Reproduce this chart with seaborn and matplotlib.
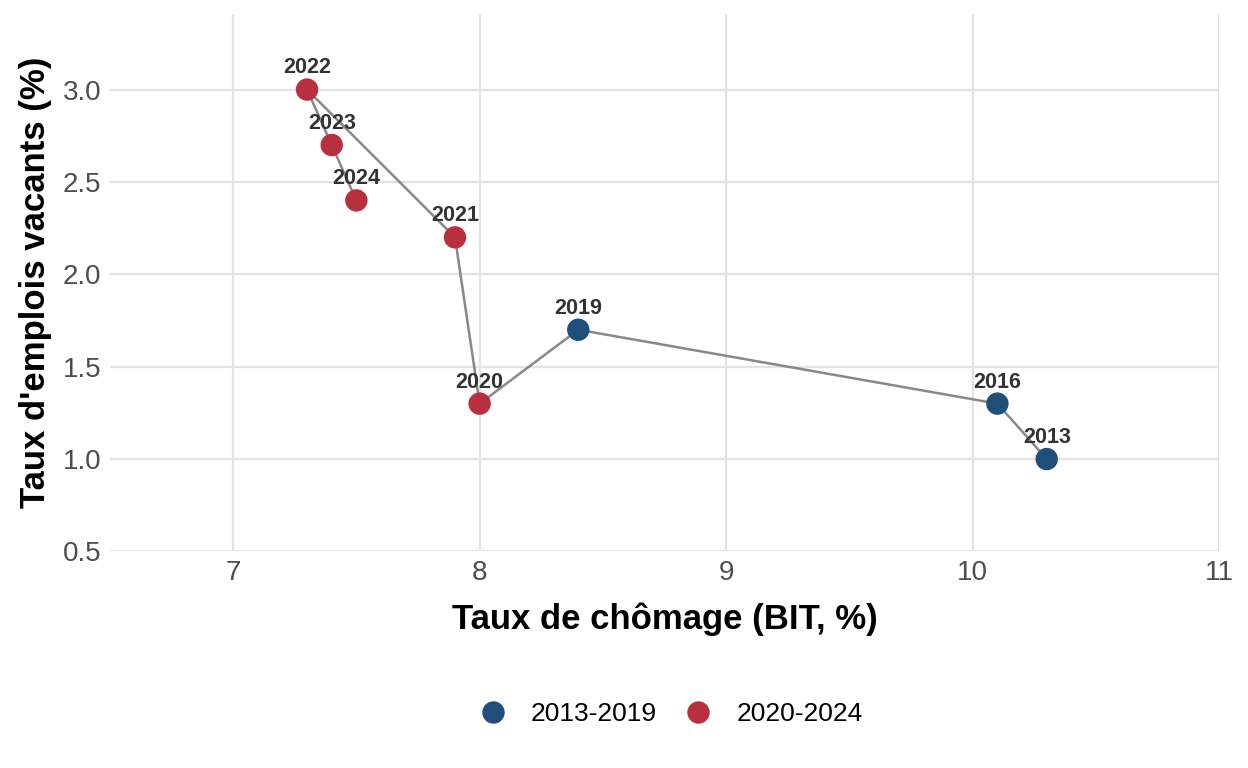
import pandas as pd
import matplotlib.pyplot as plt
import seaborn as sns

# Data
years = [2013, 2016, 2019, 2020, 2021, 2022, 2023, 2024]
chomage = [10.3, 10.1, 8.4, 8.0, 7.9, 7.3, 7.4, 7.5]
vacants = [1.0, 1.3, 1.7, 1.3, 2.2, 3.0, 2.7, 2.4]
periode = ['2013-2019', '2013-2019', '2013-2019',
           '2020-2024', '2020-2024', '2020-2024', '2020-2024', '2020-2024']

df = pd.DataFrame({'annee': years, 'chomage': chomage,
                   'vacants': vacants, 'periode': periode})

palette = {'2013-2019': '#1f4e79', '2020-2024': '#b8303d'}

sns.set_style('white')
plt.rcParams['font.family'] = ['Liberation Sans', 'DejaVu Sans']

fig, ax = plt.subplots(figsize=(12.48, 7.68), dpi=100)

# Path in year order
sns.lineplot(data=df, x='chomage', y='vacants', sort=False, color='#888888',
             linewidth=1.8, ax=ax, legend=False, zorder=2)
sns.scatterplot(data=df, x='chomage', y='vacants', hue='periode', palette=palette,
                s=260, edgecolor='none', ax=ax, zorder=3)

for _, r in df.iterrows():
    ax.annotate(str(r['annee']), (r['chomage'], r['vacants']), xytext=(0, 8),
                textcoords='offset points', ha='center', va='bottom',
                fontsize=15.5, fontweight='bold', color='#333333', zorder=4)

ax.set_xlim(6.5, 11)
ax.set_ylim(0.5, 3.41)
ax.set_xticks([7, 8, 9, 10, 11])
ax.set_yticks([0.5, 1.0, 1.5, 2.0, 2.5, 3.0])
ax.set_yticklabels(['0.5', '1.0', '1.5', '2.0', '2.5', '3.0'])
ax.grid(True, color='#e3e3e3', linewidth=1.6)
ax.set_axisbelow(True)
for s in ax.spines.values():
    s.set_visible(False)
ax.tick_params(axis='both', length=0, labelsize=20, labelcolor='#4d4d4d', pad=6)

ax.set_xlabel('Taux de chômage (BIT, %)', fontsize=25, fontweight='bold',
              color='black', labelpad=12)
ax.set_ylabel("Taux d'emplois vacants (%)", fontsize=25, fontweight='bold',
              color='black', labelpad=8)

leg = ax.legend(loc='center', bbox_to_anchor=(0.5, -0.303), ncol=2, frameon=False,
                fontsize=19, markerscale=1.0, handletextpad=0.45, columnspacing=0.55)
for t in leg.get_texts():
    t.set_color('black')

fig.subplots_adjust(left=0.088, right=0.977, top=0.982, bottom=0.282)
fig.savefig('out.png', dpi=100)
